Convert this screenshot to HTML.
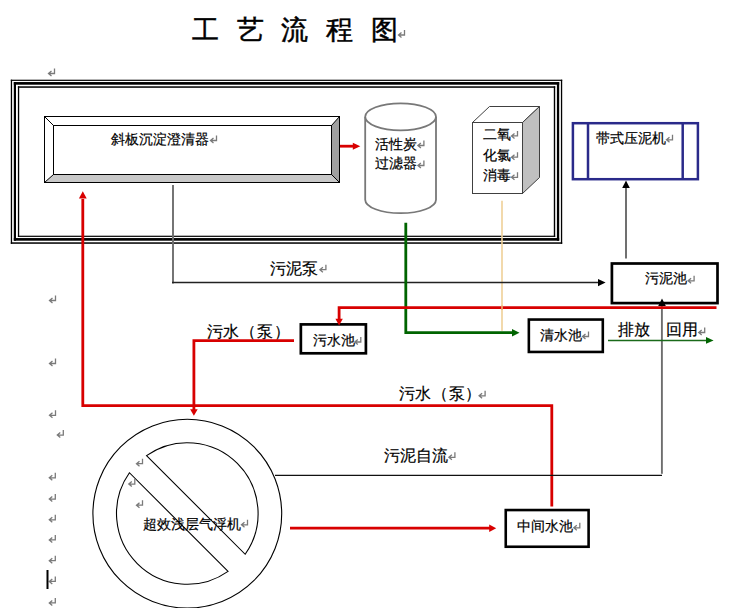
<!DOCTYPE html>
<html><head><meta charset="utf-8">
<style>
html,body{margin:0;padding:0;background:#fff;width:734px;height:608px;overflow:hidden}
svg{display:block}
text{font-family:"Liberation Sans",sans-serif;fill:#000}
.t{font-size:14px;stroke:#000;stroke-width:0.2}
.rm{fill:none;stroke:#7a7a7a;stroke-width:1.3}
</style></head><body>
<svg width="734" height="608" viewBox="0 0 734 608">
<defs>
<g id="ret"><path class="rm" d="M6.5,-4.5V0.5H1M3.5,-2L0.5,0.5L3.5,3"/></g>
</defs>
<!-- title -->
<g style="font-family:'Liberation Serif',serif;font-size:27px;font-weight:normal;stroke:#000;stroke-width:0.5">
<text x="192" y="38.5">工</text><text x="237" y="38.5">艺</text><text x="281" y="38.5">流</text><text x="326" y="38.5">程</text><text x="371" y="38.5">图</text>
</g>
<use href="#ret" x="398" y="34.5"/>
<use href="#ret" x="48" y="73"/>

<!-- triple frame -->
<g fill="#000"><rect x="10.8" y="79.7" width="1.3" height="164.1"/><rect x="560.9" y="79.7" width="1.3" height="164.1"/><rect x="10.8" y="79.7" width="551.4" height="1.2"/><rect x="10.8" y="242.3" width="551.4" height="1.5"/>
<rect x="13.8" y="82.05" width="2.2" height="158.65"/><rect x="556.9" y="82.05" width="2.3" height="158.65"/><rect x="13.8" y="82.05" width="545.4" height="2.65"/><rect x="13.8" y="238.05" width="545.4" height="2.65"/>
<rect x="17.9" y="86.3" width="1.3" height="150.6"/><rect x="553.8" y="86.3" width="1.4" height="150.6"/><rect x="17.9" y="86.3" width="537.3" height="1.5"/><rect x="17.9" y="235.7" width="537.3" height="1.2"/></g>

<!-- bevel box -->
<polygon points="44.5,116.5 339.5,116.5 331.5,125.5 53.5,125.5" fill="#fff"/>
<polygon points="44.5,116.5 53.5,125.5 53.5,174.5 44.5,182.5" fill="#fff"/>
<polygon points="339.5,116.5 339.5,182.5 331.5,174.5 331.5,125.5" fill="#a0a0a0"/>
<polygon points="44.5,182.5 53.5,174.5 331.5,174.5 339.5,182.5" fill="#c8c8c8"/>
<rect x="44.5" y="116.5" width="295" height="66" fill="none" stroke="#000" stroke-width="1"/>
<rect x="53.5" y="125.5" width="278" height="49" fill="none" stroke="#000" stroke-width="1"/>
<path d="M44.5,116.5L53.5,125.5M339.5,116.5L331.5,125.5M44.5,182.5L53.5,174.5M339.5,182.5L331.5,174.5" stroke="#000" stroke-width="1"/>
<text class="t" x="111" y="144">斜板沉淀澄清器</text>
<use href="#ret" x="210" y="140"/>

<!-- red arrow to cylinder -->
<line x1="340" y1="146.2" x2="354" y2="146.2" stroke="#d80000" stroke-width="2.8"/>
<polygon points="352.8,142.7 360.3,146.2 352.8,149.7" fill="#d80000"/>

<!-- cylinder -->
<path d="M365.2,117 V199.7 A35.4,13.5 0 0 0 436,199.7 V117" fill="#fff" stroke="#787878" stroke-width="1.8"/>
<ellipse cx="400.6" cy="116.8" rx="35.4" ry="13.5" fill="#fff" stroke="#787878" stroke-width="1.8"/>
<text class="t" x="375" y="148.5">活性炭</text><use href="#ret" x="417.4" y="145"/>
<text class="t" x="375" y="168">过滤器</text><use href="#ret" x="417.4" y="165"/>

<!-- cube -->
<polygon points="472.5,122.5 489.5,106.5 539.5,106.5 522.5,122.5" fill="#fff" stroke="#404040" stroke-width="1"/>
<polygon points="522.5,122.5 539.5,106.5 539.5,177.5 522.5,193.5" fill="#c0c0c0" stroke="#404040" stroke-width="1"/>
<rect x="472.5" y="122.5" width="50" height="71" fill="#fff" stroke="#404040" stroke-width="1"/>
<text class="t" x="483" y="139">二氧</text><use href="#ret" x="511" y="135.4"/>
<text class="t" x="483" y="160">化氯</text><use href="#ret" x="511" y="156.7"/>
<text class="t" x="483" y="180">消毒</text><use href="#ret" x="511" y="176.8"/>

<!-- belt press -->
<rect x="572.9" y="123.2" width="125" height="56" fill="none" stroke="#2a2a8a" stroke-width="2.5"/>
<line x1="588" y1="123.2" x2="588" y2="179.2" stroke="#2a2a8a" stroke-width="2.5"/>
<line x1="682.7" y1="123.2" x2="682.7" y2="179.2" stroke="#2a2a8a" stroke-width="2.5"/>
<text class="t" x="596" y="143">带式压泥机</text><use href="#ret" x="666" y="139.3"/>


<!-- orange line -->
<line x1="502" y1="200.8" x2="502" y2="330.8" stroke="#efd097" stroke-width="1.6"/>

<!-- gray line from bevel to sludge tank -->
<line x1="173" y1="185" x2="173" y2="283.5" stroke="#6e6e6e" stroke-width="1.9"/>
<line x1="172" y1="282.6" x2="599" y2="282.6" stroke="#222" stroke-width="1.5"/>
<polygon points="598,279 605.6,282.6 598,286.2" fill="#000"/>
<text class="t" x="270" y="274" style="font-size:16px">污泥泵</text><use href="#ret" x="319.4" y="269.2"/>

<!-- green line -->
<path d="M405.8,222.7 V332.7 H513" fill="none" stroke="#006400" stroke-width="2.8"/>
<polygon points="512,329.1 519.5,332.8 512,336.5" fill="#006400"/>

<!-- sludge tank -->
<rect x="611.9" y="263.5" width="105.6" height="39.6" fill="#fff" stroke="#000" stroke-width="2.7"/>
<text class="t" x="645" y="283">污泥池</text><use href="#ret" x="687.6" y="280.3"/>
<line x1="626" y1="258.5" x2="626" y2="187" stroke="#707070" stroke-width="2"/>
<polygon points="622.2,188 626,180.5 629.8,188" fill="#000"/>

<!-- gray line self-flow -->
<line x1="661.9" y1="304" x2="661.9" y2="473.8" stroke="#6e6e6e" stroke-width="1.9"/>
<polygon points="658.2,306 662,298.6 665.8,306" fill="#000"/>
<text class="t" x="384" y="461" style="font-size:15.5px">污泥自流</text><use href="#ret" x="448.4" y="456.8"/>

<!-- 污水池 -->
<rect x="300.85" y="324.4" width="65.05" height="28.9" fill="#fff" stroke="#000" stroke-width="2.7"/>
<text class="t" x="313" y="345">污水池</text><use href="#ret" x="354.3" y="341.5"/>
<text class="t" x="206.5" y="337" style="font-size:16px;letter-spacing:0.8px">污水（泵）</text>

<!-- red line from right to 污水池 -->
<path d="M716.5,307.7 H339.1 V320" fill="none" stroke="#d80000" stroke-width="2.8"/>
<polygon points="335.4,318.8 339.1,325.4 342.8,318.8" fill="#d80000"/>
<line x1="502" y1="305.5" x2="502" y2="310" stroke="#efb070" stroke-width="1.6"/>

<!-- red from 污水池 down to flotation -->
<path d="M294,340.7 H193.9 V410" fill="none" stroke="#d80000" stroke-width="2.8"/>

<!-- 清水池 -->
<rect x="528.85" y="319.55" width="73.95" height="32.4" fill="#fff" stroke="#000" stroke-width="2.6"/>
<text class="t" x="540" y="340">清水池</text><use href="#ret" x="582" y="336"/>
<text class="t" x="618" y="335" style="font-size:16px">排放</text>
<text class="t" x="666" y="335" style="font-size:16px">回用</text><use href="#ret" x="698.2" y="332"/>
<line x1="608" y1="340.4" x2="707" y2="340.4" stroke="#1a6a1a" stroke-width="1.5"/>
<polygon points="706,337 713.6,340.4 706,343.8" fill="#006400"/>

<!-- red big loop -->
<path d="M551.8,506.5 V405.7 H82.8 V199" fill="none" stroke="#d80000" stroke-width="2.8"/>
<polygon points="78.9,198.4 82.8,191.2 86.7,198.4" fill="#d80000"/>
<polygon points="190.1,409.2 193.9,415.8 197.7,409.2" fill="#d80000"/>
<text class="t" x="398.5" y="398.6" style="font-size:16px;letter-spacing:0.7px">污水（泵）</text><use href="#ret" x="478.6" y="395.3"/>

<line x1="662" y1="475.4" x2="275" y2="475.4" stroke="#111" stroke-width="1.3"/>

<!-- no symbol -->
<path fill="#fff" stroke="#000" stroke-width="1.1" fill-rule="evenodd" d="M92.9,513.7 A94.4,94.4 0 1 1 281.7,513.7 A94.4,94.4 0 1 1 92.9,513.7 Z M146.53,455.62 L245.18,554.27 A70.8,70.8 0 0 0 146.53,455.62 Z M129.42,472.73 A70.8,70.8 0 0 0 228.07,571.38 Z"/>
<text class="t" x="143" y="529">超效浅层气浮机</text><use href="#ret" x="241" y="524.3"/>
<use href="#ret" x="136" y="463.2"/>
<use href="#ret" x="128.3" y="483.6"/>
<use href="#ret" x="136" y="504.7"/>

<!-- 中间水池 -->
<rect x="505.75" y="510.05" width="82.85" height="36.7" fill="#fff" stroke="#000" stroke-width="2.6"/>
<text class="t" x="517" y="531">中间水池</text><use href="#ret" x="573.3" y="527.3"/>

<!-- red arrow to middle tank -->
<line x1="290" y1="528.2" x2="490" y2="528.2" stroke="#d80000" stroke-width="2.8"/>
<polygon points="489.2,524.5 496.2,528.2 489.2,531.9" fill="#d80000"/>

<!-- return marks left -->
<use href="#ret" x="49" y="300"/>
<use href="#ret" x="49" y="363"/>
<use href="#ret" x="49" y="414.8"/>
<use href="#ret" x="56.8" y="434.6"/>
<use href="#ret" x="48.8" y="477.3"/>
<use href="#ret" x="48.8" y="498.6"/>
<use href="#ret" x="48.8" y="519.3"/>
<use href="#ret" x="48.8" y="539.4"/>
<use href="#ret" x="48.8" y="560.2"/>
<use href="#ret" x="48.8" y="580.9"/>
<use href="#ret" x="48.8" y="602.4"/>
<rect x="46.5" y="570" width="2" height="19" fill="#000"/>
</svg>
</body></html>
